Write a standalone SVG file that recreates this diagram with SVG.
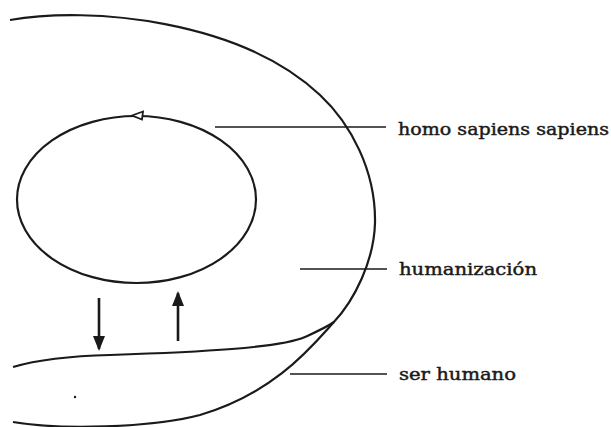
<svg xmlns="http://www.w3.org/2000/svg" width="611" height="427" viewBox="0 0 611 427">
<defs>
<style>
.ln{fill:none;stroke:#1a1a1a;stroke-width:2.2}
.ar{fill:none;stroke:#1a1a1a;stroke-width:2.6}
.lbl{fill:none;stroke:#1a1a1a;stroke-width:1.7}
.t{font-family:"DejaVu Serif","Liberation Serif",serif;font-size:16.5px;fill:#1a1a1a;stroke:#1a1a1a;stroke-width:0.45}
</style>
<marker id="ah" markerWidth="15" markerHeight="12" refX="13" refY="6" orient="auto" markerUnits="userSpaceOnUse" viewBox="0 0 15 12">
<path d="M0,0 L15,6 L0,12 Z" fill="#1a1a1a"/>
</marker>
</defs>
<rect width="611" height="427" fill="#fff"/>
<g id="outer">
<path class="ln" d="M10,20 C90,6 240,20 320,95 C350,123 376,170 375,223 C374,260 355,300 333,323 C313,345 275,393 200,415 C150,428 60,430 13,422"/>
</g>
<g id="inner">
<ellipse class="ln" cx="136.5" cy="199.5" rx="119.5" ry="83.5"/>
<path d="M132,115.5 L143,111.5 L142,119.5 Z" fill="#fff" stroke="#1a1a1a" stroke-width="1.8"/>
</g>
<g id="lens">
<path class="ln" d="M13,367 C40,359 70,356 110,355 C200,352 280,348 305,337 C318,331 327,327 334,322"/>
</g>
<g id="dot"><circle cx="75" cy="397" r="1.2" fill="#1a1a1a"/></g>
<g id="connectors">
<line class="ar" x1="99" y1="298" x2="99" y2="349" marker-end="url(#ah)"/>
<line class="ar" x1="178" y1="341" x2="178" y2="293" marker-end="url(#ah)"/>
<line class="lbl" x1="215" y1="127" x2="386" y2="127"/>
<line class="lbl" x1="300" y1="269" x2="387" y2="269"/>
<line class="lbl" x1="290" y1="374" x2="387" y2="374"/>
</g>
<g id="label-homo"><text class="t" x="398" y="135" textLength="211" lengthAdjust="spacingAndGlyphs">homo sapiens sapiens</text></g>
<g id="label-humanizacion"><text class="t" x="399" y="275" textLength="138" lengthAdjust="spacingAndGlyphs">humanización</text></g>
<g id="label-ser"><text class="t" x="399" y="380" textLength="117" lengthAdjust="spacingAndGlyphs">ser humano</text></g>
</svg>
